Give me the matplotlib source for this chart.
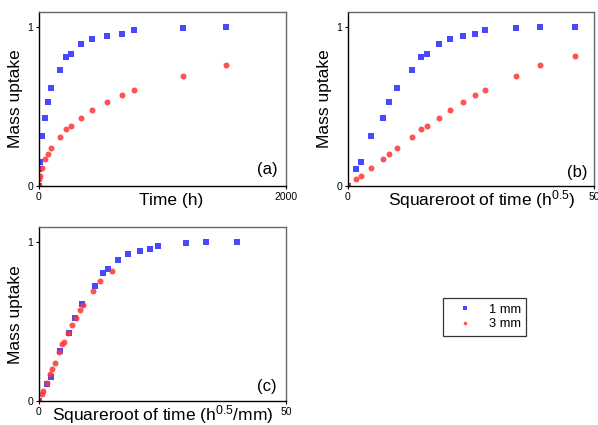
import numpy as np
import matplotlib
matplotlib.use("Agg")
import matplotlib.pyplot as plt

plt.rcParams["font.family"] = ["Liberation Sans", "DejaVu Sans"]
plt.rcParams["mathtext.fontset"] = "custom"
plt.rcParams["mathtext.rm"] = "Liberation Sans"
plt.rcParams["mathtext.default"] = "regular"

# data
time_h = np.array([0, 3.1, 7.7, 23, 50, 71, 101, 168, 221, 261, 340,
                   433, 548, 671, 773, 1170, 1513, 2116])
uptake_1mm = [0, 0.105, 0.149, 0.312, 0.426, 0.526, 0.614, 0.727, 0.809,
              0.832, 0.891, 0.925, 0.946, 0.956, 0.979, 0.996, 1.0, 1.0]
uptake_3mm = [0, 0.044, 0.063, 0.113, 0.170, 0.203, 0.241, 0.308, 0.358,
              0.375, 0.430, 0.476, 0.526, 0.572, 0.604, 0.694, 0.759, 0.820]
# effective sample thickness (mm) used for panel (c)
thick_1mm = 1.15
thick_3mm = 3.13
series_labels = ["1 mm", "3 mm"]
panel_tags = ["(a)", "(b)", "(c)"]

sqrt_t = np.sqrt(time_h)

blue = "#4848FF"
red = "#FF3535"

fig = plt.figure(figsize=(5.98, 4.25), dpi=100)
ax_a = fig.add_axes([0.0652, 0.5624, 0.413, 0.4094])
ax_b = fig.add_axes([0.5814, 0.5624, 0.4124, 0.4094])
ax_c = fig.add_axes([0.0652, 0.0565, 0.413, 0.4087])


def style(ax, xmax, xlabel, xlab_x, tag, tag_x, tag_y):
    ax.set_xlim(0, xmax)
    ax.set_ylim(0, 1.095)
    ax.set_xticks([0, xmax])
    ax.set_yticks([0, 1])
    ax.tick_params(labelsize=7.5, length=2.5, width=0.8, pad=1.5)
    for s in ["left", "bottom"]:
        ax.spines[s].set_color("black")
        ax.spines[s].set_linewidth(1.0)
    for s in ["top", "right"]:
        ax.spines[s].set_color("#666666")
        ax.spines[s].set_linewidth(1.0)
    ax.set_ylabel("Mass uptake", fontsize=12.5, labelpad=3)
    ax.set_xlabel(xlabel, fontsize=12.5, va="baseline")
    ax.xaxis.set_label_coords(xlab_x, -0.109)
    ax.text(tag_x, tag_y, tag, transform=ax.transAxes, fontsize=12,
            ha="center", va="center")


def draw(ax, x1, x3):
    ax.plot(x1, uptake_1mm, "s", color=blue, ms=3.8, mew=0,
            label=series_labels[0])
    ax.plot(x3, uptake_3mm, "o", color=red, alpha=0.85, ms=4.3, mew=0,
            label=series_labels[1])


draw(ax_a, time_h, time_h)
style(ax_a, 2000, "Time (h)", 0.534, panel_tags[0], 0.923, 0.092)

draw(ax_b, sqrt_t, sqrt_t)
style(ax_b, 50, "Squareroot of time (h$^{0.5}$)", 0.543, panel_tags[1], 0.93, 0.08)

draw(ax_c, sqrt_t / thick_1mm, sqrt_t / thick_3mm)
style(ax_c, 50, "Squareroot of time (h$^{0.5}$/mm)", 0.5, panel_tags[2], 0.923, 0.082)

h, l = ax_c.get_legend_handles_labels()
leg = fig.legend(h, l, loc="upper left", bbox_to_anchor=(442.7 / 598, 1 - 298 / 425),
                 borderaxespad=0, fontsize=9.3, markerscale=0.6, frameon=True,
                 fancybox=False, edgecolor="black", handlelength=2.6,
                 handletextpad=0.5, borderpad=0.45, labelspacing=0.18)
leg.get_frame().set_linewidth(0.9)

fig.savefig("out.png", dpi=100)
